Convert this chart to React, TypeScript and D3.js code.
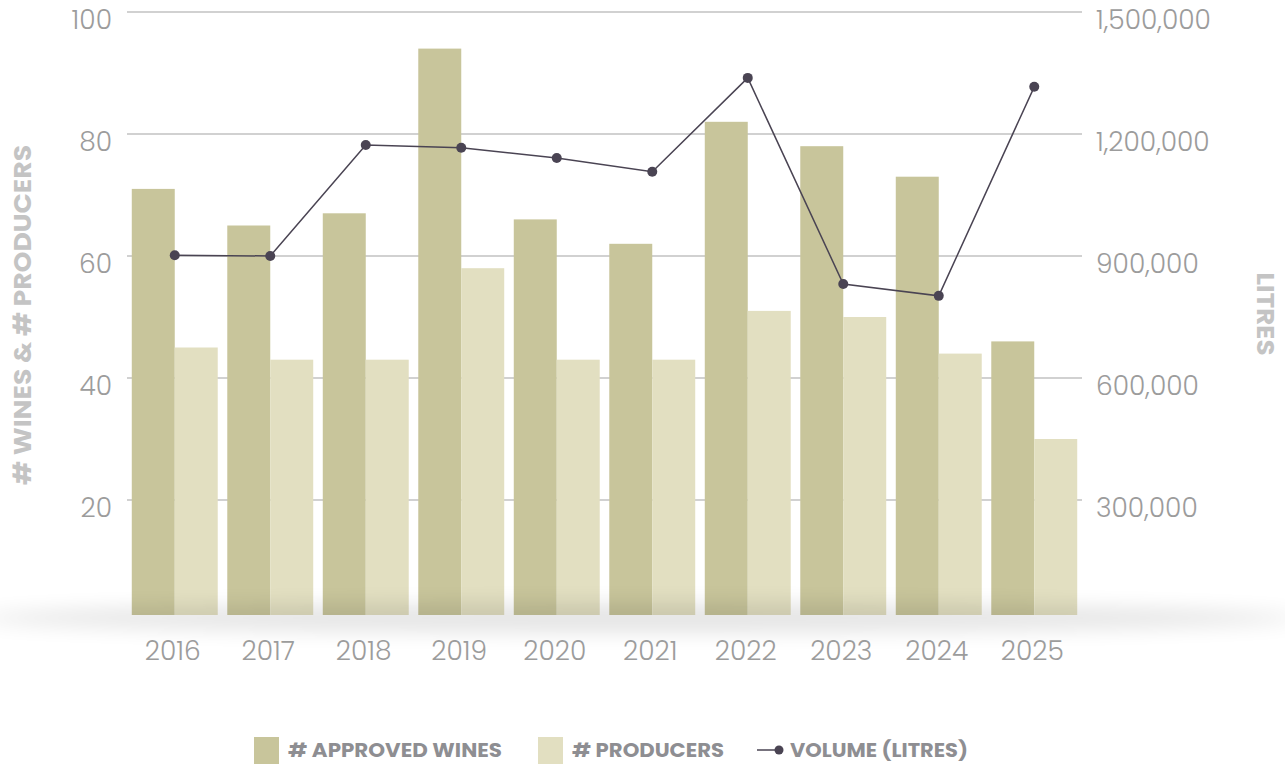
import React from "react";
import * as d3 from "d3";

const years = ["2016", "2017", "2018", "2019", "2020", "2021", "2022", "2023", "2024", "2025"];
const approvedWines = [71, 65, 67, 94, 66, 62, 82, 78, 73, 46];
const producers = [45, 43, 43, 58, 43, 43, 51, 50, 44, 30];
const volumeLitres = [902000, 900000, 1173000, 1166000, 1141000, 1107000, 1338000, 831000, 802000, 1316000];
const leftTicks = [20, 40, 60, 80, 100];
const rightTicks = [300000, 600000, 900000, 1200000, 1500000];
const legendItems = ["# APPROVED WINES", "# PRODUCERS", "VOLUME (LITRES)"];

const W = 1285;
const H = 764;
const M = { left: 127, right: 1082, top: 12, bottom: 622 };
const BAR_CLIP_BOTTOM = 615;

const C_DARK = "#c8c59b";
const C_LIGHT = "#e2dfc1";
const C_LINE = "#4a4453";
const FONT = "Poppins, Inter, 'Open Sans', sans-serif";

export default function App() {
  const x = d3.scaleBand<string>().domain(years).range([M.left, M.right]).paddingInner(0.1).paddingOuter(0.05);
  const x1 = d3.scaleBand<string>().domain(["a", "p"]).range([0, x.bandwidth()]).padding(0);
  const yL = d3.scaleLinear().domain([0, 100]).range([M.bottom, M.top]);
  const yR = d3.scaleLinear().domain([0, 1500000]).range([M.bottom, M.top]);
  const fmt = d3.format(",");

  const line = d3
    .line<number>()
    .x((_, i) => (x(years[i]) as number) + x.bandwidth() / 2)
    .y((d) => yR(d));

  return (
    <svg width={W} height={H} style={{ position: "absolute", left: 0, top: 0, background: "#fff" }}>
      <defs>
        <clipPath id="barclip">
          <rect x={0} y={0} width={W} height={BAR_CLIP_BOTTOM} />
        </clipPath>
        <filter id="shadowBlur" x="-20%" y="-200%" width="140%" height="500%">
          <feGaussianBlur stdDeviation="10" />
        </filter>
      </defs>

      {/* gridlines */}
      {leftTicks.map((t) => (
        <line key={t} x1={M.left} x2={M.right} y1={yL(t)} y2={yL(t)} stroke="#a3a3a3" strokeWidth={1} />
      ))}

      {/* bars */}
      <g clipPath="url(#barclip)">
        {years.map((yr, i) => {
          const bx = x(yr) as number;
          return (
            <g key={yr}>
              <rect x={bx + (x1("a") as number)} y={yL(approvedWines[i])} width={x1.bandwidth()} height={yL(0) - yL(approvedWines[i])} fill={C_DARK} />
              <rect x={bx + (x1("p") as number)} y={yL(producers[i])} width={x1.bandwidth()} height={yL(0) - yL(producers[i])} fill={C_LIGHT} />
            </g>
          );
        })}
      </g>

      {/* floor shadow */}
      <ellipse cx={640} cy={618} rx={660} ry={15} fill="#000" opacity={0.1} filter="url(#shadowBlur)" />

      {/* volume line */}
      <path d={line(volumeLitres) || ""} fill="none" stroke={C_LINE} strokeWidth={1.5} />
      {volumeLitres.map((v, i) => (
        <circle key={i} cx={(x(years[i]) as number) + x.bandwidth() / 2} cy={yR(v)} r={5} fill={C_LINE} />
      ))}

      {/* left tick labels */}
      {leftTicks.map((t) => (
        <text key={t} x={112} y={yL(t) + 17} textAnchor="end" fontFamily={FONT} fontWeight={300} fontSize={26.5} fill="#9c9c9c">
          {t}
        </text>
      ))}
      {/* right tick labels */}
      {rightTicks.map((t) => (
        <text key={t} x={1096} y={yR(t) + 17} textAnchor="start" fontFamily={FONT} fontWeight={300} fontSize={26.5} fill="#9c9c9c">
          {fmt(t)}
        </text>
      ))}
      {/* x labels */}
      {years.map((yr) => (
        <text key={yr} x={(x(yr) as number) + x.bandwidth() / 2 - 2} y={660} textAnchor="middle" fontFamily={FONT} fontWeight={300} fontSize={26.5} fill="#9c9c9c">
          {yr}
        </text>
      ))}

      {/* axis titles */}
      <text transform={`translate(31,315) rotate(-90)`} textAnchor="middle" fontFamily={FONT} fontWeight={700} fontSize={25} fill="#c4c4c4" textLength={340} lengthAdjust="spacingAndGlyphs">
        # WINES &amp; # PRODUCERS
      </text>
      <text transform={`translate(1257,314) rotate(90)`} textAnchor="middle" fontFamily={FONT} fontWeight={700} fontSize={25} fill="#c4c4c4" textLength={83} lengthAdjust="spacingAndGlyphs">
        LITRES
      </text>

      {/* legend */}
      <g fontFamily={FONT} fontWeight={700} fontSize={20} fill="#8e8e92">
        <rect x={254} y={737} width={25} height={27} fill={C_DARK} />
        <text x={288} y={757} textLength={214} lengthAdjust="spacingAndGlyphs">{legendItems[0]}</text>
        <rect x={538} y={737} width={25} height={27} fill={C_LIGHT} />
        <text x={572} y={757} textLength={152} lengthAdjust="spacingAndGlyphs">{legendItems[1]}</text>
        <line x1={757} x2={779} y1={750} y2={750} stroke={C_LINE} strokeWidth={1.5} />
        <circle cx={779} cy={750} r={4.5} fill={C_LINE} />
        <text x={790} y={757} textLength={178} lengthAdjust="spacingAndGlyphs">{legendItems[2]}</text>
      </g>
    </svg>
  );
}
